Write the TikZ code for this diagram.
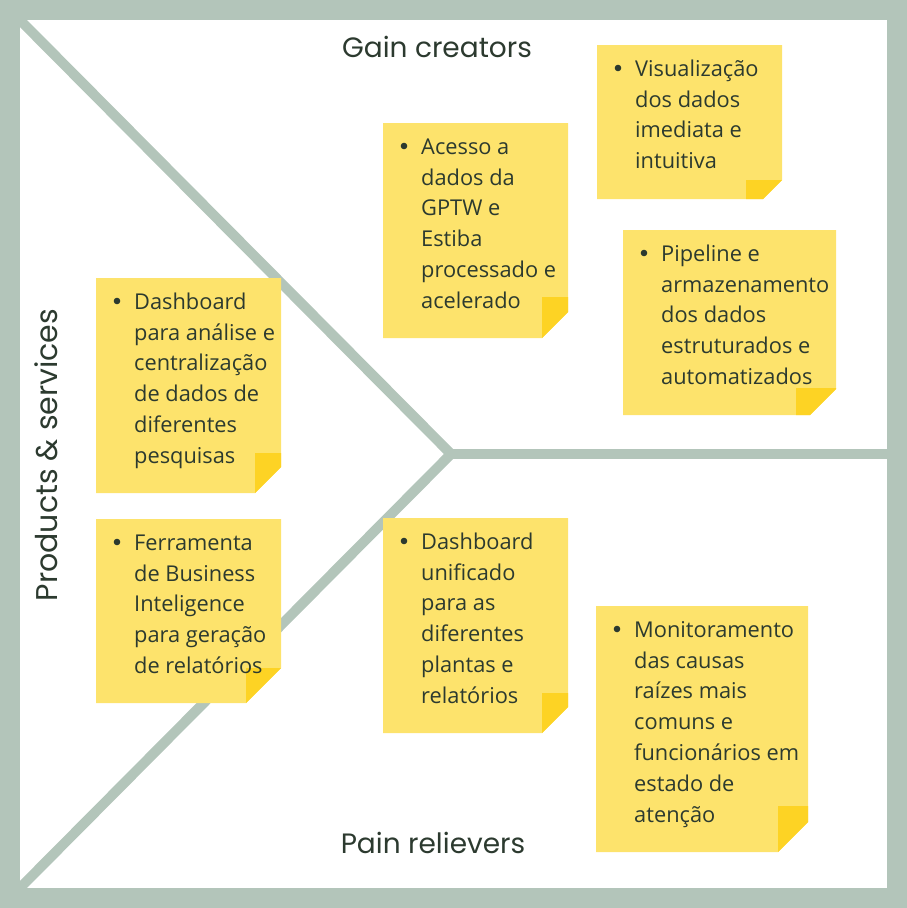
\documentclass[tikz,border=0pt]{standalone}
\usepackage{fontspec}
\setmainfont{Open Sans}
\newfontfamily\headfont{Poppins}
\usepackage{tikz}
\definecolor{sage}{HTML}{B3C5BA}
\definecolor{paper}{HTML}{FDE36C}
\definecolor{paperfold}{HTML}{FDD324}
\definecolor{ink}{HTML}{2C3A2F}
\tikzset{
  frameline/.style = {draw=sage, line width=20pt},
  spine/.style     = {draw=sage, line width=10pt, line join=miter},
  notefill/.style  = {fill=paper},
  notefold/.style  = {fill=paperfold},
  notetext/.style  = {text=ink, inner sep=0pt, align=left,
                      font=\fontsize{21.8}{30.8}\selectfont},
  heading/.style   = {text=ink, inner sep=0pt,
                      font=\headfont\fontsize{28}{30}\selectfont}
}
\newcommand{\stickynote}[9]{
  \fill[notefill] (#2,#3) -- (#4,#3) -- (#4,#5-#8) -- (#4-#8,#5) -- (#2,#5) -- cycle;
  \fill[notefold] (#6,#7) -- (#4,#7) -- (#4,#5-#8) -- (#4-#8,#5) -- (#6,#5) -- cycle;
  \fill[ink] (#2+21,#3+23) circle (3.3);
  \node[notetext, anchor=north west] (#1) at (#2+38,#3+13) {\rule{0pt}{18pt}#9};
}

\begin{document}
\begin{tikzpicture}[x=1pt, y=-1pt]
	\useasboundingbox (0,0) rectangle (907,908);
	\coordinate (tl) at (10,10);
	\coordinate (bl) at (10,898);
	\coordinate (tip) at (451,454);
	\coordinate (re) at (890,454);
	\draw[spine] (tl) -- (tip) -- (bl);
	\draw[spine] (tip) -- (re);
	\draw[frameline] (10,10) rectangle (897,898);
	\stickynote{acesso}{383}{123}{568}{338}{542}{297}{26}{Acesso a\\dados da\\GPTW e\\Estiba\\processado e\\acelerado}
	\stickynote{visual}{597}{45}{782}{199}{746}{180}{19}{Visualização\\dos dados\\imediata e\\intuitiva}
	\stickynote{pipeline}{623}{230}{836}{415}{796}{388}{26}{Pipeline e\\armazenamento\\dos dados\\estruturados e\\automatizados}
	\stickynote{dashana}{96}{278}{281}{493}{255}{453}{26}{Dashboard\\para análise e\\centralização\\de dados de\\diferentes\\pesquisas}
	\stickynote{ferramenta}{96}{519}{281}{703}{246}{668}{35}{Ferramenta\\de Business\\Inteligence\\para geração\\de relatórios}
	\stickynote{dashuni}{383}{518}{568}{733}{542}{693}{26}{Dashboard\\unificado\\para as\\diferentes\\plantas e\\relatórios}
	\stickynote{monitor}{596}{606}{808}{852}{778}{806}{30}{Monitoramento\\das causas\\raízes mais\\comuns e\\funcionários em\\estado de\\atenção}
	\node[heading, anchor=base] (gain) at (437,57) {Gain creators};
	\node[heading, anchor=base] (pain) at (433,853) {Pain relievers};
	\node[heading, anchor=base, rotate=90, font=\headfont\fontsize{30}{32}\selectfont] (prod) at (57,455) {Products \& services};
\end{tikzpicture}
\end{document}
